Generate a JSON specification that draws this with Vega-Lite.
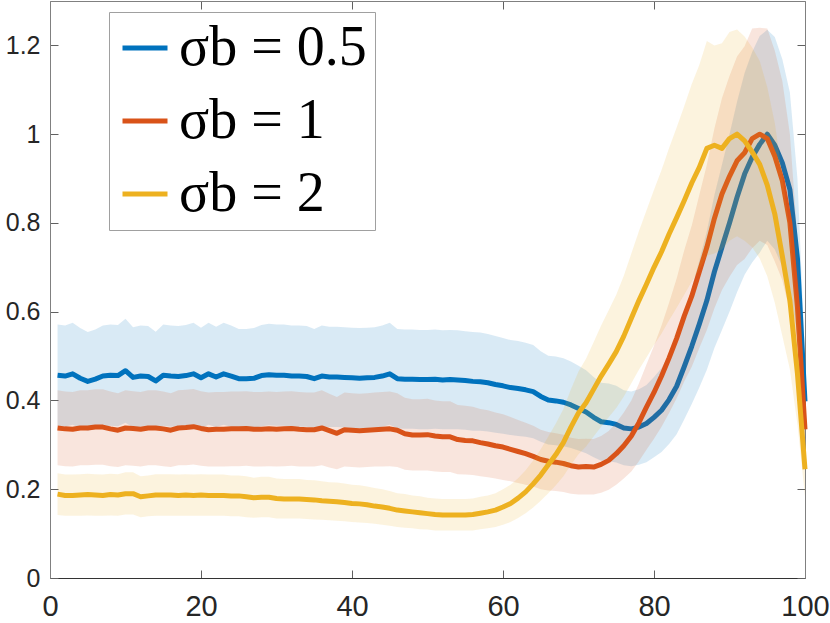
{
  "$schema": "https://vega.github.io/schema/vega-lite/v6.json",
  "width": 755,
  "height": 577,
  "autosize": {"type": "none"},
  "padding": {"left": 50, "top": 1, "right": 25, "bottom": 45},
  "background": "white",
  "data": {
    "values": [
      {"x":1,"sigma":"0.5","mean":0.457,"lower":0.343,"upper":0.571},
      {"x":2,"sigma":"0.5","mean":0.455,"lower":0.341,"upper":0.569},
      {"x":3,"sigma":"0.5","mean":0.460,"lower":0.345,"upper":0.575},
      {"x":4,"sigma":"0.5","mean":0.450,"lower":0.338,"upper":0.563},
      {"x":5,"sigma":"0.5","mean":0.443,"lower":0.332,"upper":0.554},
      {"x":6,"sigma":"0.5","mean":0.448,"lower":0.336,"upper":0.560},
      {"x":7,"sigma":"0.5","mean":0.455,"lower":0.341,"upper":0.569},
      {"x":8,"sigma":"0.5","mean":0.457,"lower":0.343,"upper":0.571},
      {"x":9,"sigma":"0.5","mean":0.456,"lower":0.342,"upper":0.570},
      {"x":10,"sigma":"0.5","mean":0.467,"lower":0.350,"upper":0.584},
      {"x":11,"sigma":"0.5","mean":0.452,"lower":0.339,"upper":0.565},
      {"x":12,"sigma":"0.5","mean":0.455,"lower":0.341,"upper":0.569},
      {"x":13,"sigma":"0.5","mean":0.454,"lower":0.341,"upper":0.568},
      {"x":14,"sigma":"0.5","mean":0.444,"lower":0.333,"upper":0.555},
      {"x":15,"sigma":"0.5","mean":0.457,"lower":0.343,"upper":0.571},
      {"x":16,"sigma":"0.5","mean":0.455,"lower":0.341,"upper":0.569},
      {"x":17,"sigma":"0.5","mean":0.454,"lower":0.341,"upper":0.568},
      {"x":18,"sigma":"0.5","mean":0.456,"lower":0.342,"upper":0.570},
      {"x":19,"sigma":"0.5","mean":0.460,"lower":0.345,"upper":0.575},
      {"x":20,"sigma":"0.5","mean":0.451,"lower":0.338,"upper":0.564},
      {"x":21,"sigma":"0.5","mean":0.460,"lower":0.345,"upper":0.575},
      {"x":22,"sigma":"0.5","mean":0.453,"lower":0.340,"upper":0.566},
      {"x":23,"sigma":"0.5","mean":0.460,"lower":0.345,"upper":0.575},
      {"x":24,"sigma":"0.5","mean":0.455,"lower":0.341,"upper":0.569},
      {"x":25,"sigma":"0.5","mean":0.449,"lower":0.337,"upper":0.561},
      {"x":26,"sigma":"0.5","mean":0.449,"lower":0.337,"upper":0.561},
      {"x":27,"sigma":"0.5","mean":0.450,"lower":0.338,"upper":0.563},
      {"x":28,"sigma":"0.5","mean":0.456,"lower":0.342,"upper":0.570},
      {"x":29,"sigma":"0.5","mean":0.458,"lower":0.344,"upper":0.573},
      {"x":30,"sigma":"0.5","mean":0.457,"lower":0.343,"upper":0.571},
      {"x":31,"sigma":"0.5","mean":0.457,"lower":0.343,"upper":0.571},
      {"x":32,"sigma":"0.5","mean":0.455,"lower":0.341,"upper":0.569},
      {"x":33,"sigma":"0.5","mean":0.455,"lower":0.341,"upper":0.569},
      {"x":34,"sigma":"0.5","mean":0.454,"lower":0.341,"upper":0.568},
      {"x":35,"sigma":"0.5","mean":0.449,"lower":0.337,"upper":0.561},
      {"x":36,"sigma":"0.5","mean":0.455,"lower":0.341,"upper":0.569},
      {"x":37,"sigma":"0.5","mean":0.453,"lower":0.340,"upper":0.566},
      {"x":38,"sigma":"0.5","mean":0.453,"lower":0.340,"upper":0.566},
      {"x":39,"sigma":"0.5","mean":0.452,"lower":0.339,"upper":0.565},
      {"x":40,"sigma":"0.5","mean":0.451,"lower":0.338,"upper":0.564},
      {"x":41,"sigma":"0.5","mean":0.450,"lower":0.338,"upper":0.563},
      {"x":42,"sigma":"0.5","mean":0.451,"lower":0.338,"upper":0.564},
      {"x":43,"sigma":"0.5","mean":0.452,"lower":0.339,"upper":0.565},
      {"x":44,"sigma":"0.5","mean":0.455,"lower":0.341,"upper":0.569},
      {"x":45,"sigma":"0.5","mean":0.460,"lower":0.345,"upper":0.575},
      {"x":46,"sigma":"0.5","mean":0.449,"lower":0.337,"upper":0.561},
      {"x":47,"sigma":"0.5","mean":0.448,"lower":0.336,"upper":0.560},
      {"x":48,"sigma":"0.5","mean":0.448,"lower":0.336,"upper":0.560},
      {"x":49,"sigma":"0.5","mean":0.447,"lower":0.335,"upper":0.559},
      {"x":50,"sigma":"0.5","mean":0.447,"lower":0.335,"upper":0.559},
      {"x":51,"sigma":"0.5","mean":0.448,"lower":0.336,"upper":0.560},
      {"x":52,"sigma":"0.5","mean":0.446,"lower":0.335,"upper":0.558},
      {"x":53,"sigma":"0.5","mean":0.447,"lower":0.335,"upper":0.559},
      {"x":54,"sigma":"0.5","mean":0.446,"lower":0.335,"upper":0.558},
      {"x":55,"sigma":"0.5","mean":0.445,"lower":0.334,"upper":0.556},
      {"x":56,"sigma":"0.5","mean":0.443,"lower":0.332,"upper":0.554},
      {"x":57,"sigma":"0.5","mean":0.442,"lower":0.332,"upper":0.553},
      {"x":58,"sigma":"0.5","mean":0.440,"lower":0.330,"upper":0.550},
      {"x":59,"sigma":"0.5","mean":0.436,"lower":0.327,"upper":0.545},
      {"x":60,"sigma":"0.5","mean":0.433,"lower":0.325,"upper":0.541},
      {"x":61,"sigma":"0.5","mean":0.429,"lower":0.322,"upper":0.536},
      {"x":62,"sigma":"0.5","mean":0.427,"lower":0.320,"upper":0.534},
      {"x":63,"sigma":"0.5","mean":0.424,"lower":0.318,"upper":0.530},
      {"x":64,"sigma":"0.5","mean":0.420,"lower":0.315,"upper":0.525},
      {"x":65,"sigma":"0.5","mean":0.409,"lower":0.307,"upper":0.511},
      {"x":66,"sigma":"0.5","mean":0.401,"lower":0.301,"upper":0.501},
      {"x":67,"sigma":"0.5","mean":0.399,"lower":0.299,"upper":0.499},
      {"x":68,"sigma":"0.5","mean":0.396,"lower":0.297,"upper":0.495},
      {"x":69,"sigma":"0.5","mean":0.390,"lower":0.293,"upper":0.488},
      {"x":70,"sigma":"0.5","mean":0.382,"lower":0.287,"upper":0.478},
      {"x":71,"sigma":"0.5","mean":0.374,"lower":0.281,"upper":0.468},
      {"x":72,"sigma":"0.5","mean":0.362,"lower":0.272,"upper":0.453},
      {"x":73,"sigma":"0.5","mean":0.352,"lower":0.264,"upper":0.440},
      {"x":74,"sigma":"0.5","mean":0.350,"lower":0.263,"upper":0.438},
      {"x":75,"sigma":"0.5","mean":0.346,"lower":0.260,"upper":0.433},
      {"x":76,"sigma":"0.5","mean":0.338,"lower":0.254,"upper":0.423},
      {"x":77,"sigma":"0.5","mean":0.336,"lower":0.252,"upper":0.420},
      {"x":78,"sigma":"0.5","mean":0.340,"lower":0.255,"upper":0.425},
      {"x":79,"sigma":"0.5","mean":0.348,"lower":0.261,"upper":0.435},
      {"x":80,"sigma":"0.5","mean":0.362,"lower":0.272,"upper":0.453},
      {"x":81,"sigma":"0.5","mean":0.378,"lower":0.284,"upper":0.473},
      {"x":82,"sigma":"0.5","mean":0.402,"lower":0.302,"upper":0.503},
      {"x":83,"sigma":"0.5","mean":0.432,"lower":0.324,"upper":0.540},
      {"x":84,"sigma":"0.5","mean":0.476,"lower":0.357,"upper":0.595},
      {"x":85,"sigma":"0.5","mean":0.522,"lower":0.392,"upper":0.653},
      {"x":86,"sigma":"0.5","mean":0.572,"lower":0.429,"upper":0.715},
      {"x":87,"sigma":"0.5","mean":0.625,"lower":0.469,"upper":0.781},
      {"x":88,"sigma":"0.5","mean":0.690,"lower":0.518,"upper":0.863},
      {"x":89,"sigma":"0.5","mean":0.745,"lower":0.559,"upper":0.931},
      {"x":90,"sigma":"0.5","mean":0.800,"lower":0.600,"upper":1.000},
      {"x":91,"sigma":"0.5","mean":0.858,"lower":0.644,"upper":1.073},
      {"x":92,"sigma":"0.5","mean":0.910,"lower":0.683,"upper":1.138},
      {"x":93,"sigma":"0.5","mean":0.948,"lower":0.711,"upper":1.185},
      {"x":94,"sigma":"0.5","mean":0.977,"lower":0.733,"upper":1.221},
      {"x":95,"sigma":"0.5","mean":1.000,"lower":0.760,"upper":1.235},
      {"x":96,"sigma":"0.5","mean":0.975,"lower":0.740,"upper":1.219},
      {"x":97,"sigma":"0.5","mean":0.935,"lower":0.701,"upper":1.169},
      {"x":98,"sigma":"0.5","mean":0.875,"lower":0.656,"upper":1.094},
      {"x":99,"sigma":"0.5","mean":0.720,"lower":0.540,"upper":0.900},
      {"x":100,"sigma":"0.5","mean":0.398,"lower":0.299,"upper":0.498},
      {"x":1,"sigma":"1","mean":0.338,"lower":0.254,"upper":0.423},
      {"x":2,"sigma":"1","mean":0.336,"lower":0.252,"upper":0.420},
      {"x":3,"sigma":"1","mean":0.335,"lower":0.251,"upper":0.419},
      {"x":4,"sigma":"1","mean":0.338,"lower":0.254,"upper":0.423},
      {"x":5,"sigma":"1","mean":0.338,"lower":0.254,"upper":0.423},
      {"x":6,"sigma":"1","mean":0.340,"lower":0.255,"upper":0.425},
      {"x":7,"sigma":"1","mean":0.340,"lower":0.255,"upper":0.425},
      {"x":8,"sigma":"1","mean":0.336,"lower":0.252,"upper":0.420},
      {"x":9,"sigma":"1","mean":0.333,"lower":0.250,"upper":0.416},
      {"x":10,"sigma":"1","mean":0.338,"lower":0.254,"upper":0.423},
      {"x":11,"sigma":"1","mean":0.337,"lower":0.253,"upper":0.421},
      {"x":12,"sigma":"1","mean":0.335,"lower":0.251,"upper":0.419},
      {"x":13,"sigma":"1","mean":0.338,"lower":0.254,"upper":0.423},
      {"x":14,"sigma":"1","mean":0.338,"lower":0.254,"upper":0.423},
      {"x":15,"sigma":"1","mean":0.336,"lower":0.252,"upper":0.420},
      {"x":16,"sigma":"1","mean":0.333,"lower":0.250,"upper":0.416},
      {"x":17,"sigma":"1","mean":0.338,"lower":0.254,"upper":0.423},
      {"x":18,"sigma":"1","mean":0.339,"lower":0.254,"upper":0.424},
      {"x":19,"sigma":"1","mean":0.341,"lower":0.256,"upper":0.426},
      {"x":20,"sigma":"1","mean":0.337,"lower":0.253,"upper":0.421},
      {"x":21,"sigma":"1","mean":0.334,"lower":0.251,"upper":0.418},
      {"x":22,"sigma":"1","mean":0.335,"lower":0.251,"upper":0.419},
      {"x":23,"sigma":"1","mean":0.335,"lower":0.251,"upper":0.419},
      {"x":24,"sigma":"1","mean":0.336,"lower":0.252,"upper":0.420},
      {"x":25,"sigma":"1","mean":0.336,"lower":0.252,"upper":0.420},
      {"x":26,"sigma":"1","mean":0.337,"lower":0.253,"upper":0.421},
      {"x":27,"sigma":"1","mean":0.335,"lower":0.251,"upper":0.419},
      {"x":28,"sigma":"1","mean":0.335,"lower":0.251,"upper":0.419},
      {"x":29,"sigma":"1","mean":0.336,"lower":0.252,"upper":0.420},
      {"x":30,"sigma":"1","mean":0.335,"lower":0.251,"upper":0.419},
      {"x":31,"sigma":"1","mean":0.336,"lower":0.252,"upper":0.420},
      {"x":32,"sigma":"1","mean":0.337,"lower":0.253,"upper":0.421},
      {"x":33,"sigma":"1","mean":0.335,"lower":0.251,"upper":0.419},
      {"x":34,"sigma":"1","mean":0.334,"lower":0.251,"upper":0.418},
      {"x":35,"sigma":"1","mean":0.334,"lower":0.251,"upper":0.418},
      {"x":36,"sigma":"1","mean":0.338,"lower":0.254,"upper":0.423},
      {"x":37,"sigma":"1","mean":0.332,"lower":0.249,"upper":0.415},
      {"x":38,"sigma":"1","mean":0.326,"lower":0.245,"upper":0.408},
      {"x":39,"sigma":"1","mean":0.334,"lower":0.251,"upper":0.418},
      {"x":40,"sigma":"1","mean":0.333,"lower":0.250,"upper":0.416},
      {"x":41,"sigma":"1","mean":0.332,"lower":0.249,"upper":0.415},
      {"x":42,"sigma":"1","mean":0.333,"lower":0.250,"upper":0.416},
      {"x":43,"sigma":"1","mean":0.334,"lower":0.251,"upper":0.418},
      {"x":44,"sigma":"1","mean":0.335,"lower":0.251,"upper":0.419},
      {"x":45,"sigma":"1","mean":0.336,"lower":0.252,"upper":0.420},
      {"x":46,"sigma":"1","mean":0.333,"lower":0.250,"upper":0.416},
      {"x":47,"sigma":"1","mean":0.325,"lower":0.244,"upper":0.406},
      {"x":48,"sigma":"1","mean":0.322,"lower":0.242,"upper":0.403},
      {"x":49,"sigma":"1","mean":0.322,"lower":0.242,"upper":0.403},
      {"x":50,"sigma":"1","mean":0.323,"lower":0.242,"upper":0.404},
      {"x":51,"sigma":"1","mean":0.320,"lower":0.240,"upper":0.400},
      {"x":52,"sigma":"1","mean":0.318,"lower":0.239,"upper":0.398},
      {"x":53,"sigma":"1","mean":0.318,"lower":0.239,"upper":0.398},
      {"x":54,"sigma":"1","mean":0.312,"lower":0.234,"upper":0.390},
      {"x":55,"sigma":"1","mean":0.310,"lower":0.233,"upper":0.388},
      {"x":56,"sigma":"1","mean":0.309,"lower":0.232,"upper":0.386},
      {"x":57,"sigma":"1","mean":0.305,"lower":0.229,"upper":0.381},
      {"x":58,"sigma":"1","mean":0.302,"lower":0.227,"upper":0.378},
      {"x":59,"sigma":"1","mean":0.298,"lower":0.224,"upper":0.373},
      {"x":60,"sigma":"1","mean":0.295,"lower":0.221,"upper":0.369},
      {"x":61,"sigma":"1","mean":0.290,"lower":0.218,"upper":0.363},
      {"x":62,"sigma":"1","mean":0.285,"lower":0.214,"upper":0.356},
      {"x":63,"sigma":"1","mean":0.280,"lower":0.210,"upper":0.350},
      {"x":64,"sigma":"1","mean":0.274,"lower":0.206,"upper":0.343},
      {"x":65,"sigma":"1","mean":0.267,"lower":0.200,"upper":0.334},
      {"x":66,"sigma":"1","mean":0.263,"lower":0.197,"upper":0.329},
      {"x":67,"sigma":"1","mean":0.261,"lower":0.196,"upper":0.326},
      {"x":68,"sigma":"1","mean":0.258,"lower":0.194,"upper":0.323},
      {"x":69,"sigma":"1","mean":0.253,"lower":0.190,"upper":0.316},
      {"x":70,"sigma":"1","mean":0.250,"lower":0.188,"upper":0.313},
      {"x":71,"sigma":"1","mean":0.251,"lower":0.188,"upper":0.314},
      {"x":72,"sigma":"1","mean":0.250,"lower":0.188,"upper":0.313},
      {"x":73,"sigma":"1","mean":0.256,"lower":0.192,"upper":0.320},
      {"x":74,"sigma":"1","mean":0.265,"lower":0.199,"upper":0.331},
      {"x":75,"sigma":"1","mean":0.280,"lower":0.210,"upper":0.350},
      {"x":76,"sigma":"1","mean":0.298,"lower":0.224,"upper":0.373},
      {"x":77,"sigma":"1","mean":0.320,"lower":0.240,"upper":0.400},
      {"x":78,"sigma":"1","mean":0.350,"lower":0.263,"upper":0.438},
      {"x":79,"sigma":"1","mean":0.385,"lower":0.289,"upper":0.481},
      {"x":80,"sigma":"1","mean":0.418,"lower":0.314,"upper":0.523},
      {"x":81,"sigma":"1","mean":0.455,"lower":0.341,"upper":0.569},
      {"x":82,"sigma":"1","mean":0.496,"lower":0.372,"upper":0.620},
      {"x":83,"sigma":"1","mean":0.540,"lower":0.405,"upper":0.675},
      {"x":84,"sigma":"1","mean":0.590,"lower":0.443,"upper":0.738},
      {"x":85,"sigma":"1","mean":0.635,"lower":0.476,"upper":0.794},
      {"x":86,"sigma":"1","mean":0.690,"lower":0.518,"upper":0.863},
      {"x":87,"sigma":"1","mean":0.745,"lower":0.559,"upper":0.931},
      {"x":88,"sigma":"1","mean":0.810,"lower":0.608,"upper":1.013},
      {"x":89,"sigma":"1","mean":0.865,"lower":0.649,"upper":1.081},
      {"x":90,"sigma":"1","mean":0.905,"lower":0.679,"upper":1.131},
      {"x":91,"sigma":"1","mean":0.940,"lower":0.705,"upper":1.175},
      {"x":92,"sigma":"1","mean":0.958,"lower":0.719,"upper":1.198},
      {"x":93,"sigma":"1","mean":0.990,"lower":0.743,"upper":1.238},
      {"x":94,"sigma":"1","mean":1.000,"lower":0.760,"upper":1.240},
      {"x":95,"sigma":"1","mean":0.990,"lower":0.750,"upper":1.238},
      {"x":96,"sigma":"1","mean":0.950,"lower":0.713,"upper":1.188},
      {"x":97,"sigma":"1","mean":0.895,"lower":0.671,"upper":1.119},
      {"x":98,"sigma":"1","mean":0.800,"lower":0.600,"upper":1.000},
      {"x":99,"sigma":"1","mean":0.610,"lower":0.458,"upper":0.763},
      {"x":100,"sigma":"1","mean":0.335,"lower":0.251,"upper":0.419},
      {"x":1,"sigma":"2","mean":0.189,"lower":0.142,"upper":0.236},
      {"x":2,"sigma":"2","mean":0.186,"lower":0.140,"upper":0.233},
      {"x":3,"sigma":"2","mean":0.186,"lower":0.140,"upper":0.233},
      {"x":4,"sigma":"2","mean":0.187,"lower":0.140,"upper":0.234},
      {"x":5,"sigma":"2","mean":0.188,"lower":0.141,"upper":0.235},
      {"x":6,"sigma":"2","mean":0.187,"lower":0.140,"upper":0.234},
      {"x":7,"sigma":"2","mean":0.186,"lower":0.140,"upper":0.233},
      {"x":8,"sigma":"2","mean":0.188,"lower":0.141,"upper":0.235},
      {"x":9,"sigma":"2","mean":0.187,"lower":0.140,"upper":0.234},
      {"x":10,"sigma":"2","mean":0.190,"lower":0.143,"upper":0.238},
      {"x":11,"sigma":"2","mean":0.190,"lower":0.143,"upper":0.238},
      {"x":12,"sigma":"2","mean":0.183,"lower":0.137,"upper":0.229},
      {"x":13,"sigma":"2","mean":0.185,"lower":0.139,"upper":0.231},
      {"x":14,"sigma":"2","mean":0.187,"lower":0.140,"upper":0.234},
      {"x":15,"sigma":"2","mean":0.187,"lower":0.140,"upper":0.234},
      {"x":16,"sigma":"2","mean":0.187,"lower":0.140,"upper":0.234},
      {"x":17,"sigma":"2","mean":0.186,"lower":0.140,"upper":0.233},
      {"x":18,"sigma":"2","mean":0.187,"lower":0.140,"upper":0.234},
      {"x":19,"sigma":"2","mean":0.186,"lower":0.140,"upper":0.233},
      {"x":20,"sigma":"2","mean":0.187,"lower":0.140,"upper":0.234},
      {"x":21,"sigma":"2","mean":0.186,"lower":0.140,"upper":0.233},
      {"x":22,"sigma":"2","mean":0.186,"lower":0.140,"upper":0.233},
      {"x":23,"sigma":"2","mean":0.186,"lower":0.140,"upper":0.233},
      {"x":24,"sigma":"2","mean":0.185,"lower":0.139,"upper":0.231},
      {"x":25,"sigma":"2","mean":0.185,"lower":0.139,"upper":0.231},
      {"x":26,"sigma":"2","mean":0.183,"lower":0.137,"upper":0.229},
      {"x":27,"sigma":"2","mean":0.181,"lower":0.136,"upper":0.226},
      {"x":28,"sigma":"2","mean":0.182,"lower":0.137,"upper":0.228},
      {"x":29,"sigma":"2","mean":0.182,"lower":0.137,"upper":0.228},
      {"x":30,"sigma":"2","mean":0.179,"lower":0.134,"upper":0.224},
      {"x":31,"sigma":"2","mean":0.178,"lower":0.134,"upper":0.223},
      {"x":32,"sigma":"2","mean":0.178,"lower":0.134,"upper":0.223},
      {"x":33,"sigma":"2","mean":0.178,"lower":0.134,"upper":0.223},
      {"x":34,"sigma":"2","mean":0.177,"lower":0.133,"upper":0.221},
      {"x":35,"sigma":"2","mean":0.176,"lower":0.132,"upper":0.220},
      {"x":36,"sigma":"2","mean":0.174,"lower":0.131,"upper":0.218},
      {"x":37,"sigma":"2","mean":0.173,"lower":0.130,"upper":0.216},
      {"x":38,"sigma":"2","mean":0.172,"lower":0.129,"upper":0.215},
      {"x":39,"sigma":"2","mean":0.170,"lower":0.128,"upper":0.213},
      {"x":40,"sigma":"2","mean":0.168,"lower":0.126,"upper":0.210},
      {"x":41,"sigma":"2","mean":0.167,"lower":0.125,"upper":0.209},
      {"x":42,"sigma":"2","mean":0.165,"lower":0.124,"upper":0.206},
      {"x":43,"sigma":"2","mean":0.162,"lower":0.122,"upper":0.203},
      {"x":44,"sigma":"2","mean":0.160,"lower":0.120,"upper":0.200},
      {"x":45,"sigma":"2","mean":0.157,"lower":0.118,"upper":0.196},
      {"x":46,"sigma":"2","mean":0.153,"lower":0.115,"upper":0.191},
      {"x":47,"sigma":"2","mean":0.151,"lower":0.113,"upper":0.189},
      {"x":48,"sigma":"2","mean":0.149,"lower":0.112,"upper":0.186},
      {"x":49,"sigma":"2","mean":0.147,"lower":0.110,"upper":0.184},
      {"x":50,"sigma":"2","mean":0.145,"lower":0.109,"upper":0.181},
      {"x":51,"sigma":"2","mean":0.143,"lower":0.107,"upper":0.179},
      {"x":52,"sigma":"2","mean":0.142,"lower":0.107,"upper":0.178},
      {"x":53,"sigma":"2","mean":0.142,"lower":0.107,"upper":0.178},
      {"x":54,"sigma":"2","mean":0.142,"lower":0.107,"upper":0.178},
      {"x":55,"sigma":"2","mean":0.142,"lower":0.107,"upper":0.178},
      {"x":56,"sigma":"2","mean":0.143,"lower":0.107,"upper":0.179},
      {"x":57,"sigma":"2","mean":0.146,"lower":0.110,"upper":0.183},
      {"x":58,"sigma":"2","mean":0.149,"lower":0.112,"upper":0.186},
      {"x":59,"sigma":"2","mean":0.153,"lower":0.115,"upper":0.191},
      {"x":60,"sigma":"2","mean":0.160,"lower":0.120,"upper":0.200},
      {"x":61,"sigma":"2","mean":0.168,"lower":0.126,"upper":0.210},
      {"x":62,"sigma":"2","mean":0.180,"lower":0.135,"upper":0.225},
      {"x":63,"sigma":"2","mean":0.194,"lower":0.146,"upper":0.243},
      {"x":64,"sigma":"2","mean":0.212,"lower":0.159,"upper":0.265},
      {"x":65,"sigma":"2","mean":0.232,"lower":0.174,"upper":0.290},
      {"x":66,"sigma":"2","mean":0.255,"lower":0.191,"upper":0.319},
      {"x":67,"sigma":"2","mean":0.278,"lower":0.209,"upper":0.348},
      {"x":68,"sigma":"2","mean":0.305,"lower":0.229,"upper":0.381},
      {"x":69,"sigma":"2","mean":0.340,"lower":0.255,"upper":0.425},
      {"x":70,"sigma":"2","mean":0.372,"lower":0.279,"upper":0.465},
      {"x":71,"sigma":"2","mean":0.395,"lower":0.296,"upper":0.494},
      {"x":72,"sigma":"2","mean":0.425,"lower":0.319,"upper":0.531},
      {"x":73,"sigma":"2","mean":0.455,"lower":0.341,"upper":0.569},
      {"x":74,"sigma":"2","mean":0.482,"lower":0.362,"upper":0.603},
      {"x":75,"sigma":"2","mean":0.510,"lower":0.383,"upper":0.638},
      {"x":76,"sigma":"2","mean":0.545,"lower":0.409,"upper":0.681},
      {"x":77,"sigma":"2","mean":0.585,"lower":0.439,"upper":0.731},
      {"x":78,"sigma":"2","mean":0.625,"lower":0.469,"upper":0.781},
      {"x":79,"sigma":"2","mean":0.662,"lower":0.497,"upper":0.828},
      {"x":80,"sigma":"2","mean":0.700,"lower":0.525,"upper":0.875},
      {"x":81,"sigma":"2","mean":0.735,"lower":0.551,"upper":0.919},
      {"x":82,"sigma":"2","mean":0.775,"lower":0.581,"upper":0.969},
      {"x":83,"sigma":"2","mean":0.812,"lower":0.609,"upper":1.015},
      {"x":84,"sigma":"2","mean":0.850,"lower":0.638,"upper":1.063},
      {"x":85,"sigma":"2","mean":0.890,"lower":0.668,"upper":1.113},
      {"x":86,"sigma":"2","mean":0.925,"lower":0.694,"upper":1.156},
      {"x":87,"sigma":"2","mean":0.968,"lower":0.726,"upper":1.210},
      {"x":88,"sigma":"2","mean":0.975,"lower":0.731,"upper":1.200},
      {"x":89,"sigma":"2","mean":0.968,"lower":0.740,"upper":1.205},
      {"x":90,"sigma":"2","mean":0.990,"lower":0.760,"upper":1.230},
      {"x":91,"sigma":"2","mean":1.000,"lower":0.770,"upper":1.236},
      {"x":92,"sigma":"2","mean":0.985,"lower":0.760,"upper":1.220},
      {"x":93,"sigma":"2","mean":0.960,"lower":0.745,"upper":1.195},
      {"x":94,"sigma":"2","mean":0.932,"lower":0.720,"upper":1.165},
      {"x":95,"sigma":"2","mean":0.885,"lower":0.680,"upper":1.106},
      {"x":96,"sigma":"2","mean":0.820,"lower":0.620,"upper":1.025},
      {"x":97,"sigma":"2","mean":0.725,"lower":0.545,"upper":0.906},
      {"x":98,"sigma":"2","mean":0.625,"lower":0.470,"upper":0.781},
      {"x":99,"sigma":"2","mean":0.460,"lower":0.345,"upper":0.575},
      {"x":100,"sigma":"2","mean":0.245,"lower":0.184,"upper":0.306}
    ]
  },
  "layer": [
    {
      "transform": [{"filter": "datum.sigma === '0.5'"}],
      "mark": {"type": "area", "fill": "#0072BD", "opacity": 0.15},
      "encoding": {
        "x": {"field": "x", "type": "quantitative", "scale": {"domain": [0, 100], "nice": false},
              "axis": {"orient": "bottom", "values": [0, 20, 40, 60, 80, 100], "labelFontSize": 29, "labelPadding": 22, "domainColor": "#333333"}},
        "y": {"field": "lower", "type": "quantitative", "scale": {"domain": [0, 1.3], "nice": false, "zero": false},
              "axis": {"orient": "left", "values": [0, 0.2, 0.4, 0.6, 0.8, 1, 1.2], "format": "~g", "labelFontSize": 25, "labelPadding": 18}},
        "y2": {"field": "upper"}
      }
    },
    {
      "transform": [{"filter": "datum.sigma === '0.5'"}],
      "mark": {"type": "line", "strokeWidth": 5, "strokeJoin": "round"},
      "encoding": {
        "x": {"field": "x", "type": "quantitative", "axis": {"orient": "top", "labels": false, "values": [0, 20, 40, 60, 80, 100]}},
        "y": {"field": "mean", "type": "quantitative", "axis": {"orient": "right", "labels": false, "values": [0, 0.2, 0.4, 0.6, 0.8, 1, 1.2]}},
        "stroke": {"field": "sigma", "type": "nominal", "scale": {"domain": ["0.5", "1", "2"], "range": ["#0072BD", "#D95319", "#EDB120"]},
                   "legend": {"title": null, "labelExpr": "'σb = ' + datum.label"}}
      }
    },
    {
      "transform": [{"filter": "datum.sigma === '1'"}],
      "mark": {"type": "area", "fill": "#D95319", "opacity": 0.15},
      "encoding": {
        "x": {"field": "x", "type": "quantitative", "axis": null},
        "y": {"field": "lower", "type": "quantitative", "axis": null},
        "y2": {"field": "upper"}
      }
    },
    {
      "transform": [{"filter": "datum.sigma === '1'"}],
      "mark": {"type": "line", "strokeWidth": 5, "strokeJoin": "round"},
      "encoding": {
        "x": {"field": "x", "type": "quantitative", "axis": null},
        "y": {"field": "mean", "type": "quantitative", "axis": null},
        "stroke": {"field": "sigma", "type": "nominal", "legend": {"title": null, "labelExpr": "'σb = ' + datum.label"}}
      }
    },
    {
      "transform": [{"filter": "datum.sigma === '2'"}],
      "mark": {"type": "area", "fill": "#EDB120", "opacity": 0.15},
      "encoding": {
        "x": {"field": "x", "type": "quantitative", "axis": null},
        "y": {"field": "lower", "type": "quantitative", "axis": null},
        "y2": {"field": "upper"}
      }
    },
    {
      "transform": [{"filter": "datum.sigma === '2'"}],
      "mark": {"type": "line", "strokeWidth": 5, "strokeJoin": "round"},
      "encoding": {
        "x": {"field": "x", "type": "quantitative", "axis": null},
        "y": {"field": "mean", "type": "quantitative", "axis": null},
        "stroke": {"field": "sigma", "type": "nominal", "legend": {"title": null, "labelExpr": "'σb = ' + datum.label"}}
      }
    }
  ],
  "resolve": {"axis": {"x": "independent", "y": "independent"}},
  "config": {
    "view": {"stroke": null},
    "axis": {
      "title": null,
      "grid": false,
      "labelFont": "Liberation Sans",
      "labelColor": "#262626",
      "labelFlush": false,
      "labelOverlap": false,
      "domainColor": "#808080",
      "domainWidth": 1,
      "tickColor": "#606060",
      "tickSize": -8,
      "tickWidth": 1
    },
    "legend": {
      "orient": "none",
      "legendX": 59,
      "legendY": 11,
      "padding": 8,
      "rowPadding": 17,
      "labelFont": "Liberation Serif",
      "labelFontSize": 56,
      "labelColor": "black",
      "labelOffset": 6,
      "labelLimit": 400,
      "symbolType": "stroke",
      "symbolSize": 2025,
      "symbolStrokeWidth": 5,
      "strokeColor": "#a0a0a0",
      "fillColor": "white"
    }
  }
}
